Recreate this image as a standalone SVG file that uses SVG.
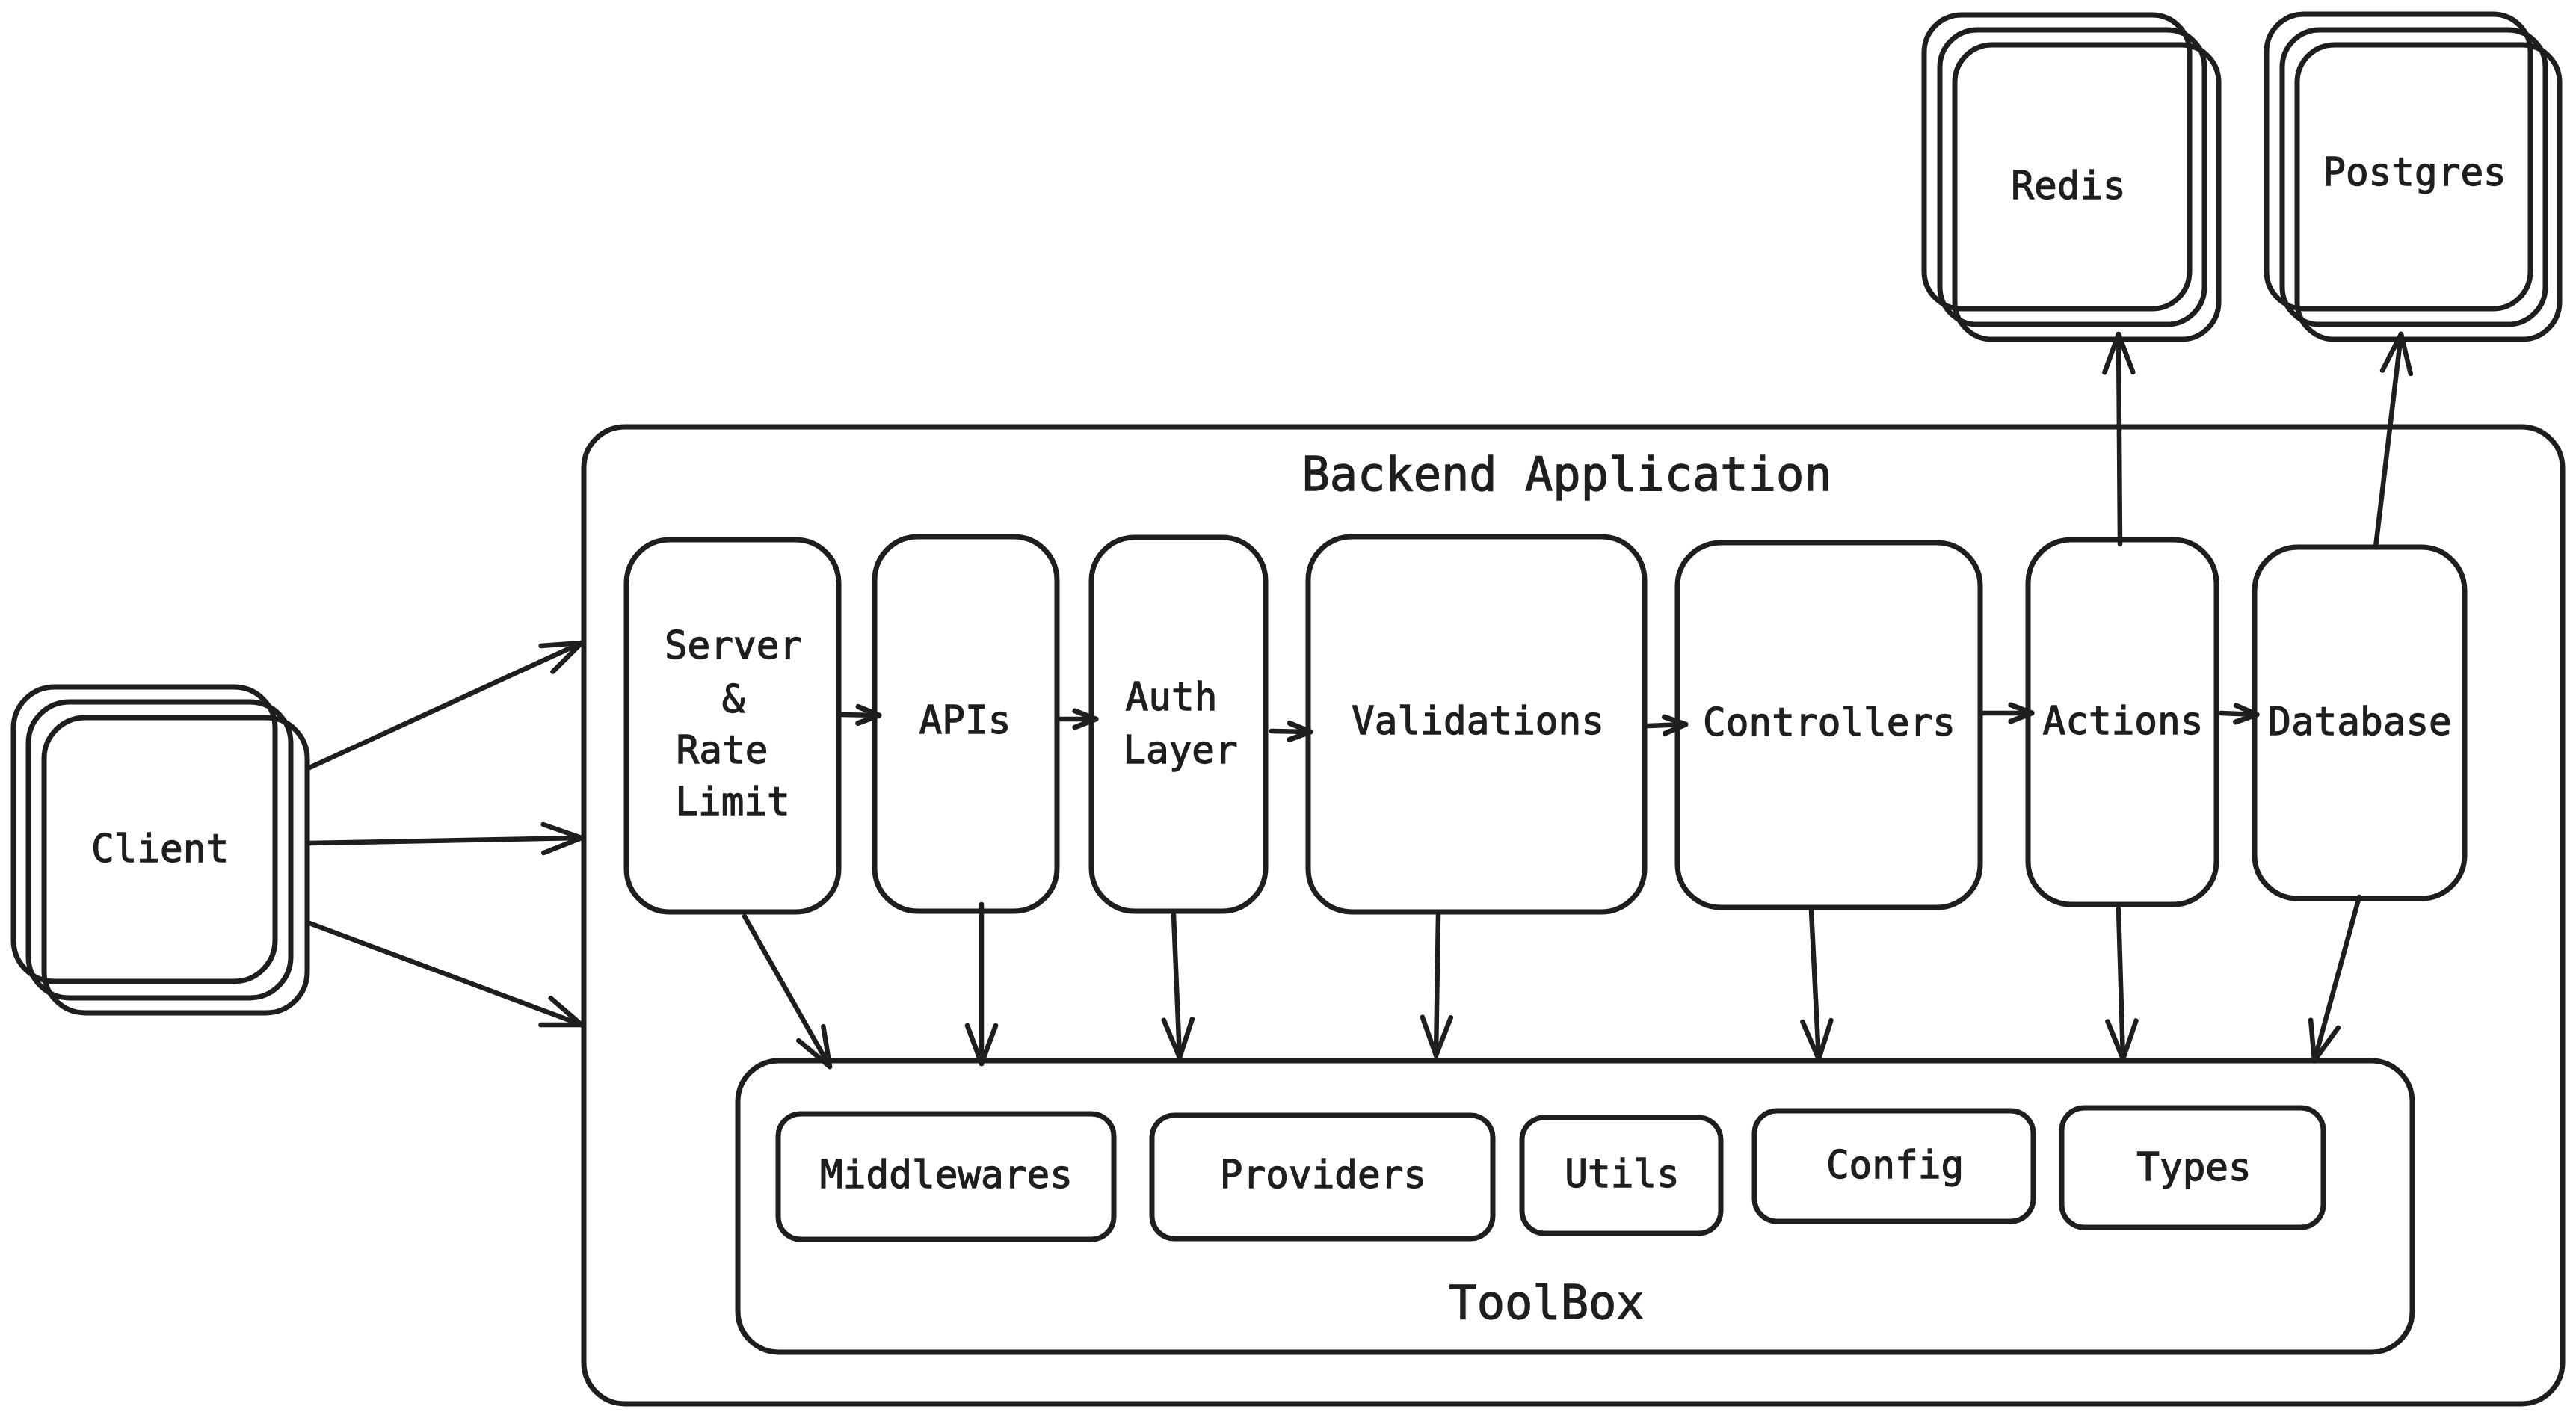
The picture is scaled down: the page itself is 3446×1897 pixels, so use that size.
<svg xmlns="http://www.w3.org/2000/svg" width="3446" height="1897" viewBox="0 0 3446 1897">
<style>
.b{fill:none;stroke:#1e1e1e;stroke-width:7;stroke-linejoin:round}
.t{font-family:"DejaVu Sans Mono","Liberation Mono",monospace;font-size:51px;fill:#1e1e1e;stroke:#1e1e1e;stroke-width:1.3;text-anchor:middle;dominant-baseline:central}
.h{font-size:62px}
.c{fill:none;stroke:#1e1e1e;stroke-width:6.5;stroke-linecap:round}
.big{marker-end:url(#ab)}
.sm{marker-end:url(#as)}
</style>
<defs>
<marker id="ab" viewBox="-60 -30 70 60" refX="0" refY="0" markerWidth="70" markerHeight="60" markerUnits="userSpaceOnUse" orient="auto" overflow="visible">
<path d="M-51,-19 L0,0 L-51,19" fill="none" stroke="#1e1e1e" stroke-width="6.5" stroke-linecap="round" stroke-linejoin="round"/>
</marker>
<marker id="as" viewBox="-40 -20 50 40" refX="0" refY="0" markerWidth="50" markerHeight="40" markerUnits="userSpaceOnUse" orient="auto" overflow="visible">
<path d="M-28,-11 L0,0 L-28,11" fill="none" stroke="#1e1e1e" stroke-width="7" stroke-linecap="round" stroke-linejoin="round"/>
</marker>
</defs>
<rect width="3446" height="1897" fill="#ffffff"/>

<g id="client">
<rect class="b" x="18" y="919" width="350" height="394" rx="55"/>
<rect class="b" x="38" y="939" width="351" height="396" rx="55"/>
<rect class="b" x="59" y="960" width="352" height="395" rx="55"/>
<text class="t" x="214" y="1135">Client</text>
</g>

<g id="redis">
<rect class="b" x="2574" y="20" width="355" height="393" rx="50"/>
<rect class="b" x="2595" y="40" width="354" height="394" rx="50"/>
<rect class="b" x="2615" y="60" width="353" height="394" rx="50"/>
<text class="t" x="2767" y="248">Redis</text>
</g>

<g id="postgres">
<rect class="b" x="3032" y="19" width="353" height="394" rx="50"/>
<rect class="b" x="3053" y="40" width="352" height="394" rx="50"/>
<rect class="b" x="3073" y="60" width="351" height="394" rx="50"/>
<text class="t" x="3230" y="230">Postgres</text>
</g>

<g id="backend">
<rect class="b" x="781" y="571" width="2647" height="1307" rx="55"/>
<text class="t h" x="2096" y="634">Backend Application</text>
</g>

<g id="server">
<rect class="b" x="838" y="722" width="284" height="498" rx="58"/>
<text class="t" x="981" y="863">Server</text>
<text class="t" x="981" y="935">&amp;</text>
<text class="t" x="966" y="1003">Rate</text>
<text class="t" x="980" y="1072">Limit</text>
</g>

<g id="apis">
<rect class="b" x="1170" y="718" width="244" height="501" rx="58"/>
<text class="t" x="1291" y="963">APIs</text>
</g>

<g id="auth">
<rect class="b" x="1460" y="719" width="233" height="500" rx="58"/>
<text class="t" x="1567" y="932">Auth</text>
<text class="t" x="1579" y="1003">Layer</text>
</g>

<g id="validations">
<rect class="b" x="1750" y="718" width="450" height="502" rx="58"/>
<text class="t" x="1977" y="964">Validations</text>
</g>

<g id="controllers">
<rect class="b" x="2244" y="726" width="405" height="488" rx="58"/>
<text class="t" x="2447" y="966">Controllers</text>
</g>

<g id="actions">
<rect class="b" x="2713" y="722" width="252" height="488" rx="58"/>
<text class="t" x="2840" y="964">Actions</text>
</g>

<g id="database">
<rect class="b" x="3016" y="732" width="281" height="470" rx="58"/>
<text class="t" x="3157" y="965">Database</text>
</g>

<g id="toolbox">
<rect class="b" x="987" y="1419" width="2240" height="390" rx="55"/>
<text class="t h" x="2069" y="1742">ToolBox</text>
</g>

<g id="middlewares">
<rect class="b" x="1041" y="1490" width="449" height="168" rx="30"/>
<text class="t" x="1266" y="1571">Middlewares</text>
</g>
<g id="providers">
<rect class="b" x="1541" y="1492" width="456" height="165" rx="30"/>
<text class="t" x="1770" y="1571">Providers</text>
</g>
<g id="utils">
<rect class="b" x="2036" y="1495" width="266" height="155" rx="30"/>
<text class="t" x="2170" y="1570">Utils</text>
</g>
<g id="config">
<rect class="b" x="2347" y="1486" width="373" height="148" rx="30"/>
<text class="t" x="2535" y="1558">Config</text>
</g>
<g id="types">
<rect class="b" x="2758" y="1482" width="350" height="160" rx="30"/>
<text class="t" x="2935" y="1561">Types</text>
</g>

<g id="connectors">
<line class="c big" x1="414" y1="1027" x2="778" y2="860"/>
<line class="c big" x1="414" y1="1128" x2="778" y2="1121"/>
<line class="c big" x1="414" y1="1235" x2="778" y2="1371"/>

<line class="c sm" x1="1124" y1="956" x2="1176" y2="957"/>
<line class="c sm" x1="1414" y1="962" x2="1466" y2="962"/>
<line class="c sm" x1="1701" y1="978" x2="1753" y2="979"/>
<line class="c sm" x1="2205" y1="971" x2="2255" y2="969"/>
<line class="c sm" x1="2651" y1="954" x2="2718" y2="954"/>
<line class="c sm" x1="2971" y1="954" x2="3019" y2="956"/>

<line class="c big" x1="996" y1="1226" x2="1110" y2="1427"/>
<line class="c big" x1="1313" y1="1210" x2="1313" y2="1423"/>
<line class="c big" x1="1570" y1="1224" x2="1578" y2="1415"/>
<line class="c big" x1="1924" y1="1224" x2="1921" y2="1412"/>
<line class="c big" x1="2423" y1="1218" x2="2433" y2="1417"/>
<line class="c big" x1="2834" y1="1216" x2="2840" y2="1417"/>
<line class="c big" x1="3156" y1="1200" x2="3096" y2="1419"/>

<line class="c big" x1="2836" y1="728" x2="2834" y2="447"/>
<line class="c big" x1="3178" y1="732" x2="3212" y2="447"/>
</g>
</svg>
